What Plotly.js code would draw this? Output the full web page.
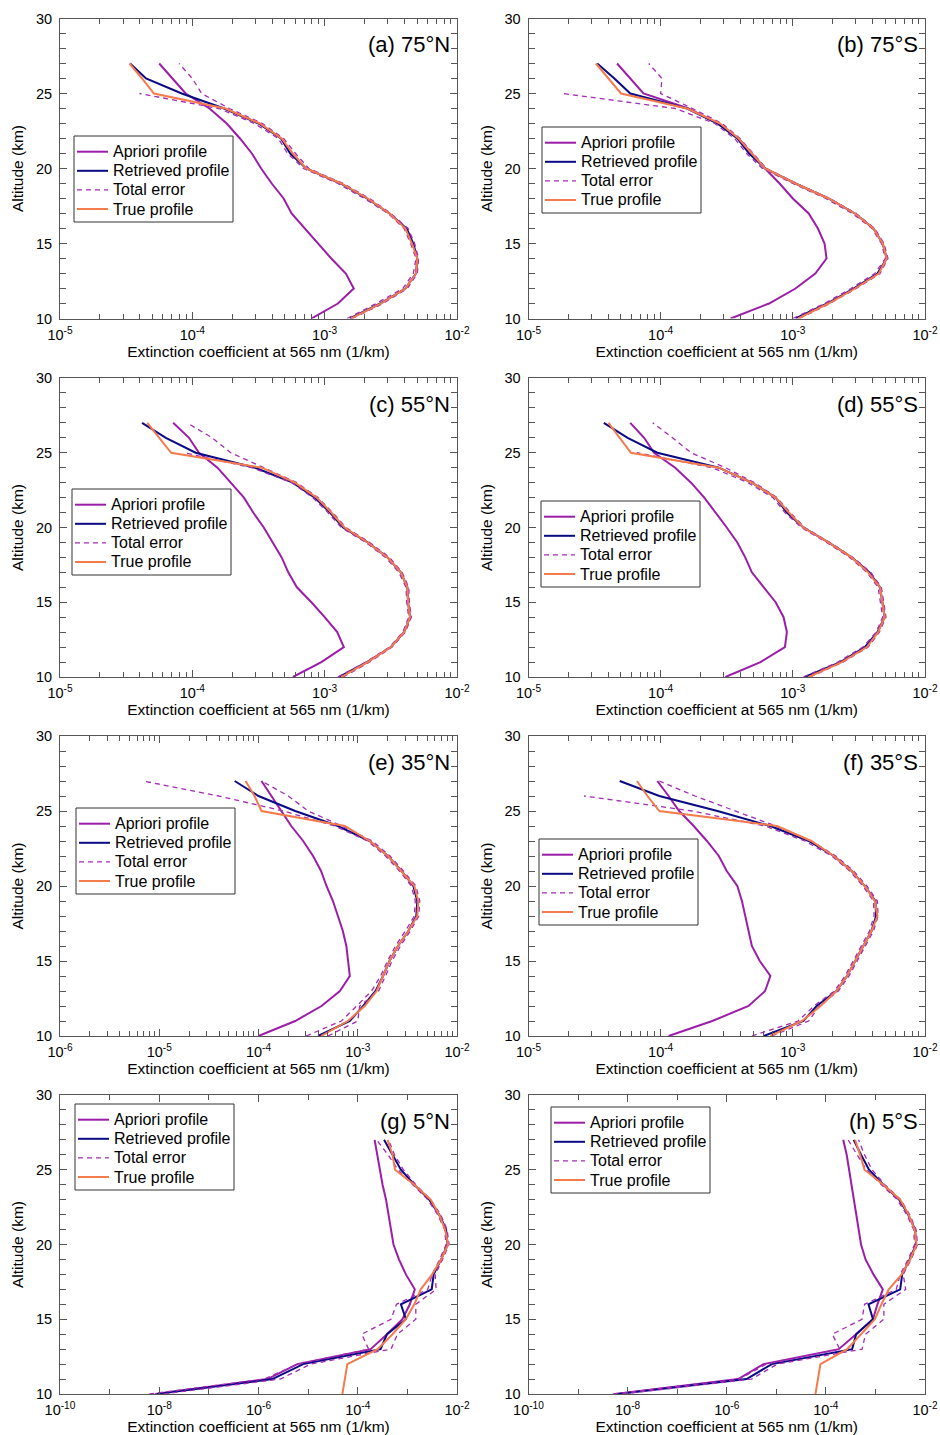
<!DOCTYPE html>
<html>
<head>
<meta charset="utf-8">
<script src="https://cdn.plot.ly/plotly-3.0.1.min.js"></script>
<style>
html,body{margin:0;padding:0;background:#fff;}
#chart{width:940px;height:1435px;}
</style>
</head>
<body>
<div id="chart"></div>
<script>
// ---------------- DATA ----------------
// Altitude grid (km), bottom to top
const altitude = [10,11,12,13,14,15,16,17,18,19,20,21,22,23,24,25,26,27];

// Panel labels
const panelLabels = ["(a) 75°N","(b) 75°S","(c) 55°N","(d) 55°S","(e) 35°N","(f) 35°S","(g) 5°N","(h) 5°S"];

// Series names
const seriesNames = ["Apriori profile","Retrieved profile","Total error","True profile"];

// Extinction coefficient at 565 nm, stored as log10(1/km), altitude 10 -> 27 km
// (a) 75°N
const a_apriori   = [-3.10,-2.90,-2.78,-2.84,-2.95,-3.05,-3.15,-3.25,-3.31,-3.40,-3.48,-3.55,-3.64,-3.74,-3.87,-4.05,-4.15,-4.25];
const a_retrieved = [-2.81,-2.58,-2.39,-2.31,-2.30,-2.33,-2.38,-2.51,-2.68,-2.88,-3.14,-3.26,-3.33,-3.50,-3.76,-4.08,-4.35,-4.47];
const a_errUpper  = [-2.79,-2.56,-2.375,-2.30,-2.29,-2.32,-2.37,-2.50,-2.66,-2.86,-3.12,-3.22,-3.31,-3.47,-3.72,-3.93,-4.00,-4.10];
const a_errLower  = [-2.83,-2.61,-2.41,-2.33,-2.31,-2.35,-2.40,-2.52,-2.70,-2.90,-3.16,-3.28,-3.35,-3.53,-3.80,-4.40,null,null];
const a_true      = [-2.80,-2.575,-2.39,-2.31,-2.30,-2.34,-2.39,-2.51,-2.675,-2.875,-3.14,-3.24,-3.325,-3.49,-3.75,-4.29,-4.38,-4.475];
// (b) 75°S
const b_apriori   = [-3.47,-3.18,-2.98,-2.83,-2.745,-2.76,-2.81,-2.88,-3.00,-3.10,-3.21,-3.31,-3.41,-3.56,-3.79,-4.13,-4.23,-4.33];
const b_retrieved = [-2.98,-2.74,-2.54,-2.36,-2.29,-2.32,-2.39,-2.53,-2.73,-2.98,-3.21,-3.33,-3.42,-3.57,-3.80,-4.23,-4.35,-4.48];
const b_errUpper  = [-2.95,-2.72,-2.52,-2.34,-2.28,-2.31,-2.38,-2.52,-2.72,-2.97,-3.20,-3.30,-3.40,-3.535,-3.76,-4.00,-3.99,-4.09];
const b_errLower  = [-3.00,-2.76,-2.56,-2.38,-2.30,-2.33,-2.40,-2.55,-2.75,-3.00,-3.23,-3.35,-3.44,-3.59,-3.89,-4.74,null,null];
const b_true      = [-2.96,-2.73,-2.53,-2.35,-2.29,-2.32,-2.39,-2.53,-2.73,-2.98,-3.21,-3.31,-3.41,-3.55,-3.80,-4.30,-4.395,-4.49];
// (c) 55°N
const c_apriori   = [-3.24,-3.025,-2.855,-2.905,-3.00,-3.10,-3.21,-3.275,-3.325,-3.39,-3.46,-3.54,-3.61,-3.71,-3.81,-3.95,-4.025,-4.145];
const c_retrieved = [-2.89,-2.68,-2.50,-2.40,-2.355,-2.37,-2.375,-2.425,-2.525,-2.675,-2.86,-2.96,-3.075,-3.24,-3.525,-3.975,-4.20,-4.38];
const c_errUpper  = [-2.86,-2.66,-2.49,-2.39,-2.345,-2.36,-2.365,-2.415,-2.51,-2.66,-2.84,-2.94,-3.05,-3.21,-3.46,-3.71,-3.85,-4.04];
const c_errLower  = [-2.90,-2.69,-2.51,-2.41,-2.365,-2.38,-2.385,-2.44,-2.54,-2.69,-2.875,-2.975,-3.09,-3.25,-3.55,-4.06,null,null];
const c_true      = [-2.875,-2.675,-2.50,-2.40,-2.355,-2.37,-2.375,-2.425,-2.525,-2.675,-2.85,-2.95,-3.06,-3.225,-3.475,-4.16,-4.25,-4.34];
// (d) 55°S
const d_apriori   = [-3.51,-3.245,-3.06,-3.045,-3.07,-3.13,-3.22,-3.31,-3.36,-3.42,-3.50,-3.585,-3.67,-3.77,-3.89,-4.05,-4.125,-4.23];
const d_retrieved = [-2.91,-2.64,-2.455,-2.36,-2.305,-2.32,-2.34,-2.42,-2.555,-2.73,-2.92,-3.045,-3.13,-3.31,-3.56,-4.025,-4.25,-4.43];
const d_errUpper  = [-2.87,-2.62,-2.43,-2.345,-2.295,-2.31,-2.33,-2.41,-2.545,-2.72,-2.91,-3.02,-3.12,-3.29,-3.51,-3.77,-3.91,-4.06];
const d_errLower  = [-2.92,-2.66,-2.47,-2.37,-2.32,-2.335,-2.355,-2.44,-2.57,-2.745,-2.935,-3.06,-3.15,-3.34,-3.61,-4.18,null,null];
const d_true      = [-2.88,-2.63,-2.44,-2.355,-2.305,-2.32,-2.34,-2.43,-2.555,-2.73,-2.92,-3.03,-3.13,-3.31,-3.56,-4.225,-4.31,-4.395];
// (e) 35°N
const e_apriori   = [-4.00,-3.63,-3.365,-3.18,-3.08,-3.10,-3.115,-3.15,-3.20,-3.25,-3.315,-3.37,-3.45,-3.55,-3.67,-3.77,-3.87,-3.97];
const e_retrieved = [-3.40,-3.08,-2.945,-2.82,-2.745,-2.68,-2.595,-2.49,-2.41,-2.40,-2.44,-2.56,-2.695,-2.88,-3.20,-3.63,-4.00,-4.24];
const e_errUpper  = [-3.30,-3.00,-2.98,-2.79,-2.72,-2.655,-2.57,-2.47,-2.385,-2.375,-2.415,-2.54,-2.675,-2.855,-3.16,-3.50,-3.70,-3.97];
const e_errLower  = [-3.52,-3.165,-3.01,-2.86,-2.77,-2.70,-2.62,-2.52,-2.43,-2.42,-2.46,-2.58,-2.72,-2.90,-3.23,-3.75,-4.40,-5.16];
const e_true      = [-3.37,-3.10,-2.93,-2.81,-2.745,-2.68,-2.595,-2.49,-2.40,-2.39,-2.43,-2.56,-2.695,-2.88,-3.13,-3.97,-4.04,-4.13];
// (f) 35°S
const f_apriori   = [-3.94,-3.61,-3.335,-3.21,-3.17,-3.25,-3.31,-3.335,-3.36,-3.385,-3.42,-3.50,-3.56,-3.65,-3.75,-3.86,-3.94,-4.025];
const f_retrieved = [-3.22,-2.92,-2.82,-2.67,-2.59,-2.53,-2.47,-2.405,-2.37,-2.375,-2.455,-2.555,-2.69,-2.88,-3.17,-3.57,-4.01,-4.31];
const f_errUpper  = [-3.16,-2.88,-2.80,-2.655,-2.575,-2.515,-2.455,-2.39,-2.355,-2.36,-2.44,-2.54,-2.675,-2.86,-3.13,-3.435,-3.74,-4.01];
const f_errLower  = [-3.31,-2.96,-2.84,-2.685,-2.605,-2.545,-2.485,-2.42,-2.385,-2.39,-2.47,-2.57,-2.705,-2.91,-3.21,-3.76,-4.58,null];
const f_true      = [-3.17,-2.93,-2.79,-2.67,-2.59,-2.53,-2.47,-2.405,-2.36,-2.38,-2.455,-2.555,-2.69,-2.86,-3.12,-4.01,-4.10,-4.18];
// (g) 5°N
const g_apriori   = [-8.08,-5.82,-5.22,-3.74,-3.41,-3.10,-2.95,-2.85,-3.03,-3.17,-3.28,-3.33,-3.38,-3.43,-3.50,-3.55,-3.60,-3.66];
const g_retrieved = [-8.05,-5.72,-5.10,-3.54,-3.41,-3.03,-3.13,-2.51,-2.47,-2.32,-2.19,-2.22,-2.36,-2.56,-2.86,-3.13,-3.30,-3.47];
const g_errUpper  = [-7.92,-5.56,-4.95,-3.33,-3.20,-2.83,-2.83,-2.42,-2.44,-2.29,-2.16,-2.20,-2.33,-2.53,-2.83,-3.08,-3.26,-3.38];
const g_errLower  = [-8.20,-5.89,-5.20,-3.78,-3.92,-3.33,-3.22,-2.59,-2.50,-2.35,-2.22,-2.25,-2.39,-2.59,-2.89,-3.19,-3.39,-3.62];
const g_true      = [-4.31,-4.26,-4.21,-3.60,-3.30,-3.03,-2.86,-2.73,-2.50,-2.32,-2.18,-2.24,-2.36,-2.53,-2.86,-3.25,-3.30,-3.40];
// (h) 5°S
const h_apriori   = [-8.25,-5.77,-5.26,-3.74,-3.39,-3.05,-2.96,-2.85,-3.04,-3.20,-3.29,-3.34,-3.38,-3.43,-3.48,-3.53,-3.58,-3.65];
const h_retrieved = [-8.20,-5.60,-5.09,-3.47,-3.39,-3.05,-3.14,-2.50,-2.46,-2.31,-2.18,-2.20,-2.34,-2.52,-2.84,-3.13,-3.29,-3.44];
const h_errUpper  = [-8.10,-5.50,-4.98,-3.27,-3.20,-2.83,-2.83,-2.39,-2.44,-2.28,-2.15,-2.18,-2.31,-2.49,-2.81,-3.07,-3.22,-3.34];
const h_errLower  = [-8.30,-5.75,-5.20,-3.72,-3.87,-3.27,-3.22,-2.58,-2.50,-2.34,-2.21,-2.23,-2.37,-2.56,-2.88,-3.18,-3.37,-3.55];
const h_true      = [-4.21,-4.16,-4.11,-3.57,-3.30,-3.01,-2.88,-2.73,-2.47,-2.30,-2.17,-2.21,-2.33,-2.50,-2.84,-3.22,-3.31,-3.41];

// x-axis decade ranges (log10) per panel
const xDecadeRanges = [[-5,-2],[-5,-2],[-5,-2],[-5,-2],[-6,-2],[-5,-2],[-10,-2],[-10,-2]];
// y tick values
const yTickVals = [10,15,20,25,30];

// ---------------- PRESENTATION ----------------
const W = 940, H = 1435;
const FONT = "Liberation Sans, Arial, Helvetica, sans-serif";
const COLORS = {apriori:"#9B1DA8", retrieved:"#0A0A85", error:"#A52BB6", truth:"#F47B4C"};
const seriesStyles = [
  {color: COLORS.apriori, width: 2, dash: "solid"},
  {color: COLORS.retrieved, width: 2, dash: "solid"},
  {color: COLORS.error, width: 1.3, dash: "5px,4px"},
  {color: COLORS.truth, width: 2, dash: "solid"}
];
const colPx = [[60,457],[528.5,925]];
const rowPx = [[18.5,318.5],[378,677],[736,1036],[1095,1394]];
// legend box top-left corners (px)
const legendPx = [[74,136],[542,127],[72,489],[541,501],[76,808],[539,839],[75,1104],[551,1107]];
const LEG_W = 159, LEG_H = 86, LEG_FIRST = 15.7, LEG_STEP = 19.1;

const panels = [
  [a_apriori,a_retrieved,a_errUpper,a_errLower,a_true],
  [b_apriori,b_retrieved,b_errUpper,b_errLower,b_true],
  [c_apriori,c_retrieved,c_errUpper,c_errLower,c_true],
  [d_apriori,d_retrieved,d_errUpper,d_errLower,d_true],
  [e_apriori,e_retrieved,e_errUpper,e_errLower,e_true],
  [f_apriori,f_retrieved,f_errUpper,f_errLower,f_true],
  [g_apriori,g_retrieved,g_errUpper,g_errLower,g_true],
  [h_apriori,h_retrieved,h_errUpper,h_errLower,h_true]
];

const toLin = arr => arr.map(v => (v === null ? null : Math.pow(10, v)));
const px2x = px => px / W;
const px2y = py => 1 - py / H;

const traces = [];
const layout = {
  width: W, height: H,
  margin: {l:0, r:0, t:0, b:0},
  paper_bgcolor: "#fff", plot_bgcolor: "#fff",
  font: {family: FONT, color: "#000", size: 14},
  showlegend: false,
  hovermode: false,
  annotations: [],
  shapes: []
};

panels.forEach((p, i) => {
  const n = i + 1;
  const xa = n === 1 ? "x" : "x" + n;
  const ya = n === 1 ? "y" : "y" + n;
  const [apr, ret, up, lo, tru] = p;
  const common = {xaxis: xa, yaxis: ya, mode: "lines", type: "scatter", hoverinfo: "skip", showlegend: false};

  traces.push(Object.assign({}, common, {name: seriesNames[0], x: toLin(apr), y: altitude,
    line: seriesStyles[0]}));
  traces.push(Object.assign({}, common, {name: seriesNames[1], x: toLin(ret), y: altitude,
    line: seriesStyles[1]}));
  traces.push(Object.assign({}, common, {name: seriesNames[2],
    x: toLin(up).concat([null], toLin(lo)), y: altitude.concat([null], altitude),
    connectgaps: false, line: seriesStyles[2]}));
  traces.push(Object.assign({}, common, {name: seriesNames[3], x: toLin(tru), y: altitude,
    line: seriesStyles[3]}));

  const col = i % 2, row = Math.floor(i / 2);
  const [d0, d1] = xDecadeRanges[i];
  const wide = (d1 - d0) > 4;
  const tickvals = [], ticktext = [], minorvals = [];
  for (let e = d0; e <= d1; e++) {
    if (!wide || (e % 2 === 0)) {
      tickvals.push(Math.pow(10, e));
      ticktext.push("10<sup>" + e + "</sup>");
    } else {
      minorvals.push(Math.pow(10, e));
    }
    if (!wide && e < d1) {
      for (let m = 2; m <= 9; m++) minorvals.push(m * Math.pow(10, e));
    }
  }

  layout["xaxis" + (n === 1 ? "" : n)] = {
    type: "log", range: [d0, d1], anchor: ya,
    domain: [colPx[col][0] / W, colPx[col][1] / W],
    tickvals: tickvals, ticktext: ticktext,
    ticks: "inside", ticklen: 7, tickwidth: 1, tickcolor: "#555",
    minor: {tickvals: minorvals, ticks: "inside", ticklen: 5, tickcolor: "#555", tickwidth: 1, showgrid: false},
    showline: true, linecolor: "#555", linewidth: 1, mirror: "ticks",
    showgrid: false, zeroline: false,
    tickfont: {family: FONT, size: 14.5, color: "#000"},
    ticklabelstandoff: 3,
    title: {text: "Extinction coefficient at 565 nm (1/km)", font: {family: FONT, size: 15.5, color: "#000"}, standoff: 3},
    automargin: false, fixedrange: true
  };
  layout["yaxis" + (n === 1 ? "" : n)] = {
    range: [10, 30], anchor: xa,
    domain: [1 - rowPx[row][1] / H, 1 - rowPx[row][0] / H],
    tickvals: yTickVals,
    ticks: "inside", ticklen: 7, tickwidth: 1, tickcolor: "#555",
    minor: {dtick: 1, ticks: "inside", ticklen: 6, tickcolor: "#555", tickwidth: 1, showgrid: false},
    showline: true, linecolor: "#555", linewidth: 1, mirror: "ticks",
    showgrid: false, zeroline: false,
    tickfont: {family: FONT, size: 14.5, color: "#000"},
    ticklabelstandoff: 4,
    title: {text: "Altitude (km)", font: {family: FONT, size: 15.5, color: "#000"}, standoff: 8},
    automargin: false, fixedrange: true
  };

  // Legend box (drawn as shapes + text)
  const [lx, ly] = legendPx[i];
  layout.shapes.push({
    type: "rect", xref: "paper", yref: "paper",
    x0: px2x(lx), x1: px2x(lx + LEG_W), y0: px2y(ly), y1: px2y(ly + LEG_H),
    line: {color: "#333", width: 1}, fillcolor: "#fff", layer: "above"
  });
  seriesNames.forEach((nm, k) => {
    const yc = ly + LEG_FIRST + k * LEG_STEP;
    layout.shapes.push({
      type: "line", xref: "paper", yref: "paper",
      x0: px2x(lx + 3), x1: px2x(lx + 34), y0: px2y(yc), y1: px2y(yc),
      line: {color: seriesStyles[k].color, width: seriesStyles[k].width, dash: seriesStyles[k].dash},
      layer: "above"
    });
    layout.annotations.push({
      xref: "paper", yref: "paper", x: px2x(lx + 37), y: px2y(yc),
      xanchor: "left", yanchor: "middle", showarrow: false,
      text: nm, font: {family: FONT, size: 16, color: "#000"}
    });
  });

  layout.annotations.push({
    xref: xa + " domain", yref: ya + " domain",
    x: 0.988, y: 0.912, xanchor: "right", yanchor: "middle",
    text: panelLabels[i], showarrow: false,
    font: {family: FONT, size: 22, color: "#000"}
  });
});

Plotly.newPlot("chart", traces, layout, {staticPlot: true, displayModeBar: false});
</script>
</body>
</html>
